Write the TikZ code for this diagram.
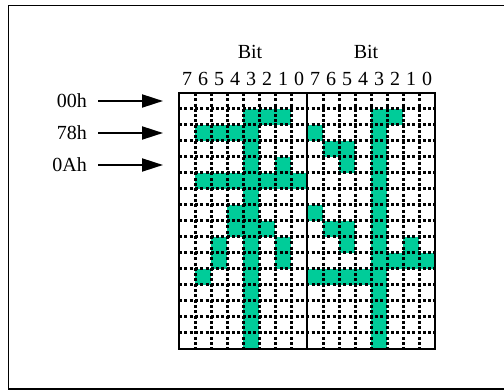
\documentclass[tikz,border=0pt]{standalone}
\usepackage{fontspec}
\setmainfont{Liberation Serif}
\usetikzlibrary{arrows.meta}
\definecolor{bitgreen}{RGB}{0,204,153}
\tikzset{
  bitcell/.style={fill=bitgreen},
  gridline/.style={line width=3pt,dash pattern=on 3pt off 2.3pt},
  ptr/.style={line width=2pt,-{Triangle[length=21pt,width=13pt]}},
  lbl/.style={font=\fontsize{20}{24}\selectfont,inner sep=0pt}
}
\begin{document}
\begin{tikzpicture}[x=1pt,y=-1pt]
\useasboundingbox (0,0) rectangle (504,390);
\draw[line width=1.5pt] (8.5,5.5) rectangle (506,389.2);

% lit bits, left byte column then right byte column
\foreach \c/\r in {4/1,5/1,6/1, 1/2,2/2,3/2,4/2, 4/3, 4/4,6/4,
  1/5,2/5,3/5,4/5,5/5,6/5,7/5, 4/6, 3/7,4/7, 3/8,4/8,5/8,
  2/9,4/9,6/9, 2/10,4/10,6/10, 1/11,4/11, 4/12,4/13,4/14,4/15}
  \fill[bitcell] ({179+16*\c},{93+16*\r}) rectangle +(16,16);
\foreach \c/\r in {4/1,5/1, 0/2,4/2, 1/3,2/3,4/3, 2/4,4/4, 4/5, 4/6,
  0/7,4/7, 1/8,2/8,4/8, 2/9,4/9,6/9, 4/10,5/10,6/10,7/10,
  0/11,1/11,2/11,3/11,4/11, 4/12,4/13,4/14,4/15}
  \fill[bitcell] ({307+16*\c},{93+16*\r}) rectangle +(16,16);

\foreach \k in {1,...,15} \draw[gridline] (179,{93+16*\k}) -- (435,{93+16*\k});
\foreach \k in {1,...,7,9,10,...,15} \draw[gridline] ({179+16*\k},93) -- ({179+16*\k},349);
\draw[line width=2pt] (307,93) -- (307,349);
\draw[line width=2.4pt] (179,93) rectangle (435,349);

\node[lbl,anchor=base] (bitL) at (250,59) {Bit};
\node[lbl,anchor=base] (bitR) at (366,59) {Bit};
\foreach \c in {0,...,15} {
  \pgfmathtruncatemacro\b{7-mod(\c,8)}
  \node[lbl,anchor=base] (d\c) at ({187+16*\c},86) {\b};
}

\node[lbl,anchor=east] (r00) at (87,101) {00h};
\node[lbl,anchor=east] (r78) at (87,133) {78h};
\node[lbl,anchor=east] (r0A) at (87,165) {0Ah};
\coordinate (t00) at (163,101);
\coordinate (t78) at (163,133);
\coordinate (t0A) at (163,165);
\draw[ptr] ([xshift=11pt]r00.east) -- (t00);
\draw[ptr] ([xshift=11pt]r78.east) -- (t78);
\draw[ptr] ([xshift=11pt]r0A.east) -- (t0A);

\end{tikzpicture}
\end{document}
